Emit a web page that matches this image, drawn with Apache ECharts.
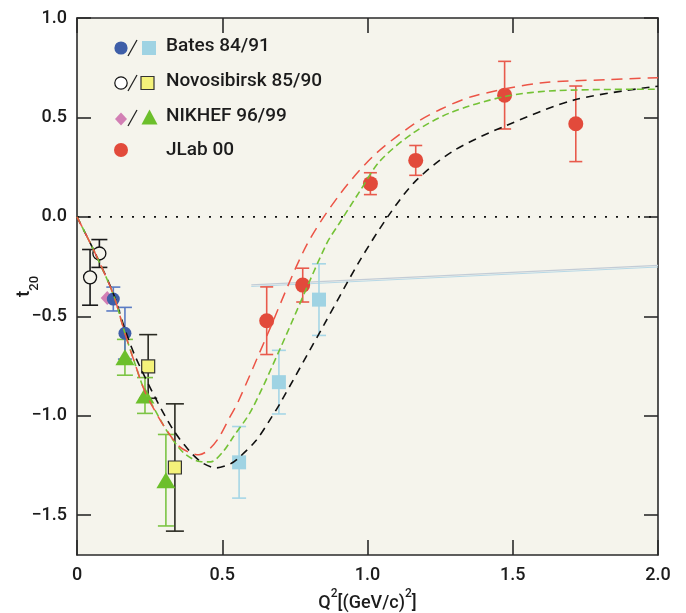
<!DOCTYPE html>
<html>
<head>
<meta charset="utf-8">
<script src="https://cdn.jsdelivr.net/npm/echarts@6/dist/echarts.min.js"></script>
<style>
  html, body { margin: 0; padding: 0; background: #ffffff; }
  #chart { width: 686px; height: 613px; }
</style>
</head>
<body>
<div id="chart"></div>
<script>
// ---- Deuteron tensor polarization t20 versus Q^2 ----

// Bates 84/91
const batesCircleQ2 = [0.125, 0.165];
const batesCircleT20 = [-0.413, -0.585];
const batesCircleErr = [0.06, 0.13];
const batesSquareQ2 = [0.558, 0.695, 0.833];
const batesSquareT20 = [-1.234, -0.831, -0.416];
const batesSquareErr = [0.18, 0.16, 0.18];

// Novosibirsk 85/90
const novoCircleQ2 = [0.045, 0.077];
const novoCircleT20 = [-0.304, -0.184];
const novoCircleErr = [0.14, 0.07];
const novoSquareQ2 = [0.245, 0.337];
const novoSquareT20 = [-0.752, -1.26];
const novoSquareErr = [0.16, 0.32];

// NIKHEF 96/99
const nikhefDiamondQ2 = [0.104];
const nikhefDiamondT20 = [-0.408];
const nikhefTriQ2 = [0.165, 0.234, 0.306];
const nikhefTriT20 = [-0.706, -0.898, -1.324];
const nikhefTriErr = [0.09, 0.09, 0.23];

// JLab 00
const jlabQ2 = [0.653, 0.777, 1.01, 1.166, 1.472, 1.717];
const jlabT20 = [-0.522, -0.343, 0.167, 0.284, 0.612, 0.468];
const jlabErr = [0.17, 0.085, 0.055, 0.075, 0.17, 0.19];

// Model curves, [Q2, t20]
const curveRed = [[0, 0], [0.06, -0.175], [0.125, -0.39], [0.165, -0.585], [0.2, -0.74], [0.234, -0.88],
  [0.27, -0.98], [0.303, -1.06], [0.349, -1.15], [0.39, -1.187], [0.42, -1.196], [0.45, -1.175],
  [0.486, -1.115], [0.526, -1.007], [0.554, -0.932], [0.65, -0.61], [0.789, -0.146], [0.905, 0.114],
  [1.02, 0.306], [1.158, 0.465], [1.25, 0.54], [1.364, 0.607], [1.594, 0.673], [1.823, 0.69], [2.0, 0.70]];
const curveGreen = [[0, 0], [0.06, -0.175], [0.125, -0.39], [0.165, -0.585], [0.2, -0.74], [0.234, -0.88],
  [0.27, -0.975], [0.309, -1.075], [0.366, -1.185], [0.423, -1.23], [0.46, -1.232], [0.503, -1.18],
  [0.537, -1.108], [0.6, -0.973], [0.7, -0.66], [0.858, -0.138], [0.905, -0.028], [0.974, 0.13],
  [1.043, 0.281], [1.158, 0.423], [1.284, 0.523], [1.472, 0.605], [1.651, 0.635], [2.0, 0.642]];
const curveBlack = [[0, 0], [0.06, -0.175], [0.125, -0.385], [0.165, -0.565], [0.2, -0.70], [0.268, -0.905],
  [0.331, -1.07], [0.389, -1.18], [0.435, -1.24], [0.481, -1.262], [0.53, -1.24], [0.56, -1.207],
  [0.617, -1.123], [0.663, -1.023], [0.698, -0.94], [0.85, -0.543], [0.973, -0.221], [1.076, 0.014],
  [1.166, 0.181], [1.295, 0.331], [1.472, 0.456], [1.717, 0.59], [2.0, 0.657]];
const zeroLine = [[0, 0], [2, 0]];
const faintLineUpper = [[0.6, -0.342], [2.0, -0.244]];
const faintLineLower = [[0.6, -0.350], [2.0, -0.252]];

// Axis ticks
const xTicks = [0, 0.5, 1.0, 1.5, 2.0];
const yTicks = [-1.5, -1.0, -0.5, 0, 0.5, 1.0];

const FONT = 'Roboto, "Noto Sans", sans-serif';
const INK = '#1c1c1c';
const PLOT_BG = '#f5f4ec';

const pairs = (q, t) => q.map((x, i) => [x, t[i]]);
const triples = (q, t, e) => q.map((x, i) => [x, t[i], e[i]]);

function errorBars(q, t, e, color, cap) {
  return {
    type: 'custom',
    z: 3,
    data: triples(q, t, e),
    encode: { x: 0, y: 1 },
    renderItem: function (params, api) {
      const x = api.value(0), y = api.value(1), d = api.value(2);
      const top = api.coord([x, y + d]);
      const bot = api.coord([x, y - d]);
      const h = cap / 2;
      const style = { stroke: color, lineWidth: 1.6 };
      return {
        type: 'group',
        children: [
          { type: 'line', shape: { x1: top[0], y1: top[1], x2: bot[0], y2: bot[1] }, style: style },
          { type: 'line', shape: { x1: top[0] - h, y1: top[1], x2: top[0] + h, y2: top[1] }, style: style },
          { type: 'line', shape: { x1: bot[0] - h, y1: bot[1], x2: bot[0] + h, y2: bot[1] }, style: style }
        ]
      };
    }
  };
}

function markers(q, t, symbol, size, fill, border, borderWidth) {
  return {
    type: 'scatter',
    z: 4,
    data: pairs(q, t),
    symbol: symbol,
    symbolSize: size,
    itemStyle: { color: fill, borderColor: border || fill, borderWidth: borderWidth || 0, opacity: 1 },
    emphasis: { disabled: true }
  };
}

function curve(data, color, dash, width) {
  return {
    type: 'line',
    z: 5,
    data: data,
    smooth: 0.3,
    symbol: 'none',
    lineStyle: { color: color, width: width || 1.5, type: dash },
    emphasis: { disabled: true }
  };
}

const yFmt = v => (v < 0 ? '\u2212' + Math.abs(v).toFixed(1) : v.toFixed(1));
const xFmt = v => (v === 0 ? '0' : v.toFixed(1));

// Legend, drawn as graphic marks
const legendText = (y, text) => ({
  type: 'text', left: 166, top: y - 11,
  style: { text: text, font: '500 19px ' + FONT, fill: INK }
});
const slash = y => ({
  type: 'line', shape: { x1: 128, y1: y + 8, x2: 137, y2: y - 8 },
  style: { stroke: '#222', lineWidth: 1.3 }
});

const graphic = [
  // Bates
  { type: 'circle', shape: { cx: 121, cy: 48, r: 6.6 }, style: { fill: '#3e5ea8' } },
  slash(48),
  { type: 'rect', shape: { x: 142, y: 41, width: 14, height: 14 }, style: { fill: '#9fd3e3' } },
  legendText(48, 'Bates 84/91'),
  // Novosibirsk
  { type: 'circle', shape: { cx: 121, cy: 83, r: 6.2 }, style: { fill: '#ffffff', stroke: '#111', lineWidth: 1.2 } },
  slash(83),
  { type: 'rect', shape: { x: 141, y: 76.5, width: 13, height: 13 }, style: { fill: '#f4f27a', stroke: '#333', lineWidth: 1.2 } },
  legendText(83, 'Novosibirsk 85/90'),
  // NIKHEF
  { type: 'polygon', shape: { points: [[121, 112.5], [127, 119], [121, 125.5], [115, 119]] }, style: { fill: '#d27fb4' } },
  slash(118),
  { type: 'polygon', shape: { points: [[149.5, 109.5], [157.5, 124.5], [141.5, 124.5]] }, style: { fill: '#6cbf2b' } },
  legendText(118, 'NIKHEF 96/99'),
  // JLab
  { type: 'circle', shape: { cx: 121, cy: 150, r: 7 }, style: { fill: '#e24a3b' } },
  legendText(152, 'JLab 00')
];

const axisLineStyle = { color: '#2a2a2a', width: 1.6 };

const option = {
  backgroundColor: '#ffffff',
  animation: false,
  grid: {
    left: 77, right: 28, top: 18, bottom: 58,
    containLabel: false, outerBoundsMode: 'none',
    show: true, backgroundColor: PLOT_BG, borderWidth: 0
  },
  xAxis: [
    {
      type: 'value', min: 0, max: 2, position: 'bottom',
      axisLine: { show: true, onZero: false, lineStyle: axisLineStyle },
      axisTick: { show: true, inside: true, length: 15, customValues: xTicks, lineStyle: axisLineStyle },
      axisLabel: { show: true, customValues: xTicks, formatter: xFmt, margin: 11,
        fontFamily: FONT, fontSize: 18, fontWeight: 500, color: INK },
      splitLine: { show: false },
      name: '{b|Q}{sup|2}{b|[(GeV/c)}{sup|2}{b|]}',
      nameLocation: 'middle', nameGap: 33, nameMoveOverlap: false,
      nameTextStyle: {
        rich: {
          b: { fontFamily: FONT, fontSize: 18, fontWeight: 500, color: INK, lineHeight: 24, verticalAlign: 'bottom' },
          sup: { fontFamily: FONT, fontSize: 12, fontWeight: 500, color: INK, lineHeight: 24, verticalAlign: 'top' }
        }
      }
    },
    {
      type: 'value', min: 0, max: 2, position: 'top',
      axisLine: { show: true, onZero: false, lineStyle: axisLineStyle },
      axisTick: { show: true, inside: true, length: 15, customValues: xTicks, lineStyle: axisLineStyle },
      axisLabel: { show: false },
      splitLine: { show: false }
    }
  ],
  yAxis: [
    {
      type: 'value', min: -1.7, max: 1.0, position: 'left',
      axisLine: { show: true, onZero: false, lineStyle: axisLineStyle },
      axisTick: { show: true, inside: true, length: 14, customValues: yTicks, lineStyle: axisLineStyle },
      axisLabel: { show: true, customValues: yTicks, formatter: yFmt, margin: 10,
        fontFamily: FONT, fontSize: 18, fontWeight: 500, color: INK },
      splitLine: { show: false },
      name: '{t|t}{s|20}',
      nameLocation: 'middle', nameGap: 36, nameRotate: 90, nameMoveOverlap: false,
      nameTextStyle: {
        rich: {
          t: { fontFamily: FONT, fontSize: 19, fontWeight: 500, color: INK, lineHeight: 26, verticalAlign: 'top' },
          s: { fontFamily: FONT, fontSize: 13, fontWeight: 500, color: INK, lineHeight: 26, verticalAlign: 'bottom' }
        }
      }
    },
    {
      type: 'value', min: -1.7, max: 1.0, position: 'right',
      axisLine: { show: true, onZero: false, lineStyle: axisLineStyle },
      axisTick: { show: true, inside: true, length: 14, customValues: yTicks, lineStyle: axisLineStyle },
      axisLabel: { show: false },
      splitLine: { show: false }
    }
  ],
  graphic: graphic,
  series: [
    // zero reference
    { type: 'line', z: 2, data: zeroLine, symbol: 'none',
      lineStyle: { color: '#111', width: 1.6, type: [2, 9] }, emphasis: { disabled: true } },
    { type: 'line', z: 2, data: faintLineUpper, symbol: 'none',
      lineStyle: { color: '#c3ccd6', width: 1.2 }, emphasis: { disabled: true } },
    { type: 'line', z: 2, data: faintLineLower, symbol: 'none',
      lineStyle: { color: '#b7d8e6', width: 1.2 }, emphasis: { disabled: true } },

    // error bars
    errorBars(novoCircleQ2, novoCircleT20, novoCircleErr, '#1a1a1a', 16),
    errorBars(novoSquareQ2, novoSquareT20, novoSquareErr, '#2a2a22', 18),
    errorBars(nikhefTriQ2, nikhefTriT20, nikhefTriErr, '#7cc444', 16),
    errorBars(batesCircleQ2, batesCircleT20, batesCircleErr, '#5a7bc4', 14),
    errorBars(batesSquareQ2, batesSquareT20, batesSquareErr, '#a6d6e6', 14),
    errorBars(jlabQ2, jlabT20, jlabErr, '#e85a4c', 13),

    // data points
    markers(novoCircleQ2, novoCircleT20, 'circle', 13, PLOT_BG, '#111', 1.3),
    markers(nikhefDiamondQ2, nikhefDiamondT20, 'diamond', [13, 14], '#d27fb4'),
    markers(batesCircleQ2, batesCircleT20, 'circle', 13, '#3e5ea8'),
    markers(nikhefTriQ2, nikhefTriT20, 'triangle', [19, 16], '#6cbf2b'),
    markers(novoSquareQ2, novoSquareT20, 'rect', 13, '#f4f27a', '#333', 1.2),
    markers(batesSquareQ2, batesSquareT20, 'rect', 14, '#9fd3e3'),
    markers(jlabQ2, jlabT20, 'circle', 15, '#e24a3b'),

    // model curves
    curve(curveBlack, '#111111', [8, 6], 1.6),
    curve(curveGreen, '#74c236', [7, 4], 1.6),
    curve(curveRed, '#ec5446', [11, 7], 1.5)
  ]
};

const chart = echarts.init(document.getElementById('chart'), null, { renderer: 'canvas' });
chart.setOption(option);
</script>
</body>
</html>
